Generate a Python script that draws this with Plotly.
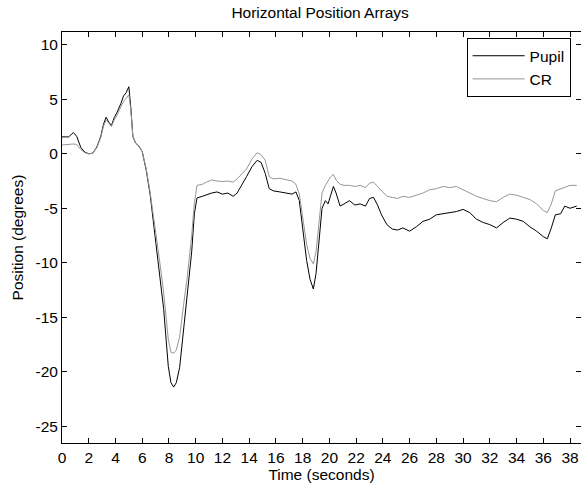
import plotly.graph_objects as go

time_s = [0.0, 0.5, 0.85, 1.1, 1.4, 1.7, 2.0, 2.3, 2.6, 2.9, 3.1, 3.3, 3.5, 3.7, 3.9, 4.1, 4.4, 4.6, 4.8, 5.0,
          5.15, 5.3, 5.5, 5.75, 6.0, 6.3, 6.6, 7.0, 7.3, 7.6, 7.95, 8.15, 8.35, 8.55, 8.8, 9.1, 9.35, 9.7, 9.9,
          10.1, 10.5, 10.8, 11.2, 11.6, 12.0, 12.4, 12.8, 13.1, 13.4, 13.8, 14.2, 14.6, 14.9, 15.2, 15.5, 15.8,
          16.3, 16.8, 17.2, 17.5, 17.75, 18.0, 18.3, 18.55, 18.8, 19.0, 19.2, 19.45, 19.7, 19.9, 20.1, 20.3,
          20.5, 20.8, 21.1, 21.5, 21.9, 22.3, 22.7, 23.0, 23.3, 23.6, 23.9, 24.3, 24.7, 25.1, 25.5, 26.0, 26.5,
          27.0, 27.5, 28.0, 28.5, 29.0, 29.5, 30.0, 30.5, 31.0, 31.5, 32.0, 32.5, 33.0, 33.5, 34.0, 34.5, 35.0,
          35.5, 36.0, 36.3, 36.6, 36.9, 37.3, 37.6, 38.0, 38.5]

pupil = [1.55, 1.55, 1.95, 1.6, 0.6, 0.15, 0.0, 0.05, 0.6, 1.6, 2.7, 3.35, 2.9, 2.6, 3.3, 3.75, 4.6, 5.3, 5.6, 6.15,
         4.2, 1.6, 1.0, 0.7, 0.2, -1.5, -3.8, -7.8, -11.0, -14.2, -19.5, -21.0, -21.4, -21.0, -19.6, -16.0, -13.2,
         -9.0, -5.5, -4.05, -3.9, -3.75, -3.6, -3.5, -3.7, -3.6, -3.9, -3.6, -3.0, -2.1, -1.2, -0.6, -0.8, -1.8,
         -3.2, -3.4, -3.5, -3.6, -3.7, -3.5, -4.3, -6.8, -9.8, -11.5, -12.4, -11.0, -8.5, -5.0, -4.3, -4.6, -3.8,
         -3.0, -3.6, -4.8, -4.6, -4.3, -4.7, -4.6, -4.8, -4.1, -4.0, -4.7, -5.6, -6.5, -6.9, -7.0, -6.8, -7.1,
         -6.7, -6.2, -6.0, -5.6, -5.5, -5.4, -5.3, -5.1, -5.4, -6.0, -6.3, -6.5, -6.8, -6.3, -5.9, -6.0, -6.2,
         -6.7, -7.1, -7.6, -7.8, -6.8, -5.6, -5.5, -4.8, -5.0, -4.8]

cr = [0.80, 0.85, 0.90, 0.85, 0.40, 0.10, 0.0, 0.05, 0.55, 1.5, 2.5, 3.1, 2.8, 2.5, 3.1, 3.5, 4.3, 4.8, 5.1, 5.4,
      4.0, 1.6, 1.0, 0.7, 0.2, -1.4, -3.6, -7.0, -9.8, -12.7, -17.0, -18.2, -18.3, -18.0, -16.8, -13.8, -11.5,
      -7.5, -4.5, -2.9, -2.8, -2.6, -2.4, -2.5, -2.55, -2.5, -2.6, -2.3, -1.9, -1.4, -0.5, 0.1, -0.1, -0.6,
      -2.1, -2.3, -2.25, -2.4, -2.5, -2.8, -3.7, -5.8, -8.3, -9.6, -10.1, -9.0, -6.8, -3.6, -2.9, -2.5, -2.1,
      -1.9, -2.4, -2.8, -2.9, -2.9, -3.0, -2.9, -3.1, -2.7, -2.6, -3.0, -3.4, -3.9, -4.0, -4.1, -3.9, -4.0,
      -3.8, -3.6, -3.3, -3.2, -3.0, -3.1, -3.0, -3.3, -3.6, -3.9, -4.1, -4.3, -4.4, -4.0, -3.7, -3.8, -4.0,
      -4.2, -4.6, -5.2, -5.4, -4.6, -3.4, -3.2, -3.1, -2.9, -2.9]

x_ticks = list(range(0, 39, 2))
y_ticks = [10, 5, 0, -5, -10, -15, -20, -25]

FONT = "Liberation Sans, Arial, sans-serif"
FS = 15.5

fig = go.Figure()
fig.add_trace(go.Scatter(x=time_s, y=pupil, mode="lines", name="Pupil",
                         line=dict(color="black", width=1)))
fig.add_trace(go.Scatter(x=time_s, y=cr, mode="lines", name="CR",
                         line=dict(color="#969696", width=1)))

axis_common = dict(showline=True, linecolor="black", linewidth=1, mirror="ticks",
                   ticks="inside", ticklen=5, tickcolor="black", showgrid=False,
                   zeroline=False, tickfont=dict(family=FONT, size=FS, color="black"))

fig.update_layout(
    width=581, height=487,
    margin=dict(l=62, r=0, t=32, b=44),
    paper_bgcolor="white", plot_bgcolor="white",
    font=dict(family=FONT, size=FS, color="black"),
    title=dict(text="Horizontal Position Arrays", x=0.551, xanchor="center",
               y=0.985, yanchor="top", font=dict(family=FONT, size=FS, color="black")),
    xaxis=dict(range=[0, 38.82], tickvals=x_ticks, ticktext=[str(v) for v in x_ticks],
               title=dict(text="Time (seconds)", standoff=4, font=dict(family=FONT, size=FS)),
               **axis_common),
    yaxis=dict(range=[-26.53, 11.17], tickvals=y_ticks, ticktext=[str(v) for v in y_ticks],
               title=dict(text="Position (degrees)", standoff=8, font=dict(family=FONT, size=FS)),
               **axis_common),
    legend=dict(x=0.98, y=0.985, xanchor="right", yanchor="top", bgcolor="white",
                bordercolor="black", borderwidth=1, itemwidth=52,
                font=dict(family=FONT, size=FS, color="black")),
    showlegend=True,
)

fig.write_html("out.html")
